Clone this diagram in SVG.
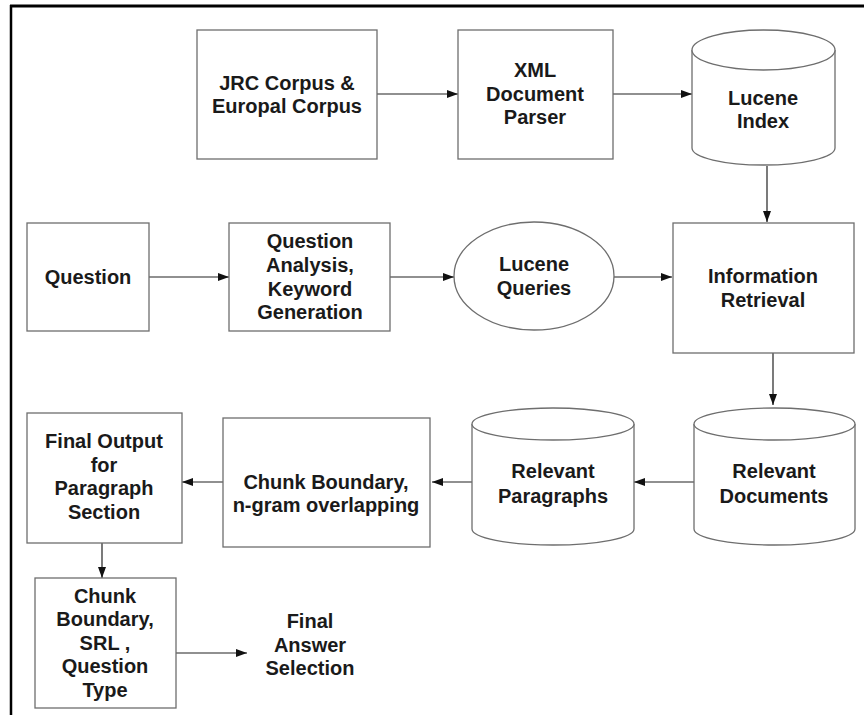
<svg xmlns="http://www.w3.org/2000/svg" width="864" height="715" viewBox="0 0 864 715">
<defs>
<marker id="ah" markerWidth="11" markerHeight="8" refX="11" refY="4" orient="auto" markerUnits="userSpaceOnUse">
<path d="M0,0 L11,4 L0,8 Z" fill="#111"/>
</marker>
<style>
.box{fill:#fff;stroke:#6e6e6e;stroke-width:1.3}
.t{font-family:"Liberation Sans",Arial,sans-serif;font-weight:bold;font-size:20px;fill:#1a1a1a;text-anchor:middle}
.c{fill:none;stroke:#222;stroke-width:1.2;marker-end:url(#ah)}
</style>
</defs>
<rect width="864" height="715" fill="#fff"/>
<g id="frame">
<line x1="10" y1="6" x2="864" y2="6" stroke="#000" stroke-width="3"/>
<line x1="11" y1="5" x2="11" y2="715" stroke="#000" stroke-width="2.5"/>
</g>
<g id="connectors">
<line class="c" x1="377" y1="94" x2="458" y2="94"/>
<line class="c" x1="613" y1="94" x2="692" y2="94"/>
<line class="c" x1="767" y1="166" x2="767" y2="222"/>
<line class="c" x1="149" y1="277" x2="229" y2="277"/>
<line class="c" x1="390" y1="277" x2="454" y2="277"/>
<line class="c" x1="614" y1="277" x2="672" y2="277"/>
<line class="c" x1="773" y1="353" x2="773" y2="405"/>
<line class="c" x1="694" y1="482" x2="634" y2="482"/>
<line class="c" x1="472" y1="482" x2="432" y2="482"/>
<line class="c" x1="223" y1="482" x2="182" y2="482"/>
<line class="c" x1="102" y1="543" x2="102" y2="578"/>
<line class="c" x1="176" y1="653" x2="247" y2="653"/>
</g>
<g id="jrc">
<rect class="box" x="197" y="30" width="180" height="129"/>
<text class="t" x="287" y="90">JRC Corpus &amp;</text>
<text class="t" x="287" y="113">Europal Corpus</text>
</g>
<g id="xml">
<rect class="box" x="458" y="30" width="155" height="129"/>
<text class="t" x="535" y="77">XML</text>
<text class="t" x="535" y="101">Document</text>
<text class="t" x="535" y="124">Parser</text>
</g>
<g id="lucene-index">
<path class="box" d="M692,50 L692,148 A71.5,17 0 0 0 835,148 L835,50"/>
<ellipse class="box" cx="763.5" cy="50" rx="71.5" ry="20"/>
<text class="t" x="763" y="105">Lucene</text>
<text class="t" x="763" y="128">Index</text>
</g>
<g id="question">
<rect class="box" x="27" y="223" width="122" height="108"/>
<text class="t" x="88" y="284">Question</text>
</g>
<g id="qa">
<rect class="box" x="229" y="223" width="161" height="108"/>
<text class="t" x="310" y="248">Question</text>
<text class="t" x="310" y="272">Analysis,</text>
<text class="t" x="310" y="296">Keyword</text>
<text class="t" x="310" y="319">Generation</text>
</g>
<g id="lucene-queries">
<ellipse class="box" cx="534" cy="276" rx="80" ry="54"/>
<text class="t" x="534" y="271">Lucene</text>
<text class="t" x="534" y="295">Queries</text>
</g>
<g id="ir">
<rect class="box" x="673" y="223" width="181" height="130"/>
<text class="t" x="763" y="283">Information</text>
<text class="t" x="763" y="307">Retrieval</text>
</g>
<g id="rel-docs">
<path class="box" d="M694,424 L694,529 A80.5,16 0 0 0 855,529 L855,424"/>
<ellipse class="box" cx="774.5" cy="424" rx="80.5" ry="16"/>
<text class="t" x="774" y="478">Relevant</text>
<text class="t" x="774" y="503">Documents</text>
</g>
<g id="rel-paras">
<path class="box" d="M472,424 L472,529 A81,16 0 0 0 634,529 L634,424"/>
<ellipse class="box" cx="553" cy="424" rx="81" ry="16"/>
<text class="t" x="553" y="478">Relevant</text>
<text class="t" x="553" y="503">Paragraphs</text>
</g>
<g id="chunk-ngram">
<rect class="box" x="223" y="418" width="207" height="129"/>
<text class="t" x="326" y="489">Chunk Boundary,</text>
<text class="t" x="326" y="512">n-gram overlapping</text>
</g>
<g id="final-output">
<rect class="box" x="27" y="413" width="155" height="130"/>
<text class="t" x="104" y="448">Final Output</text>
<text class="t" x="104" y="472">for</text>
<text class="t" x="104" y="495">Paragraph</text>
<text class="t" x="104" y="519">Section</text>
</g>
<g id="chunk-srl">
<rect class="box" x="35" y="578" width="141" height="130"/>
<text class="t" x="105" y="603">Chunk</text>
<text class="t" x="105" y="626">Boundary,</text>
<text class="t" x="105" y="650">SRL ,</text>
<text class="t" x="105" y="673">Question</text>
<text class="t" x="105" y="697">Type</text>
</g>
<g id="final-answer">
<text class="t" x="310" y="628">Final</text>
<text class="t" x="310" y="652">Answer</text>
<text class="t" x="310" y="675">Selection</text>
</g>
</svg>
